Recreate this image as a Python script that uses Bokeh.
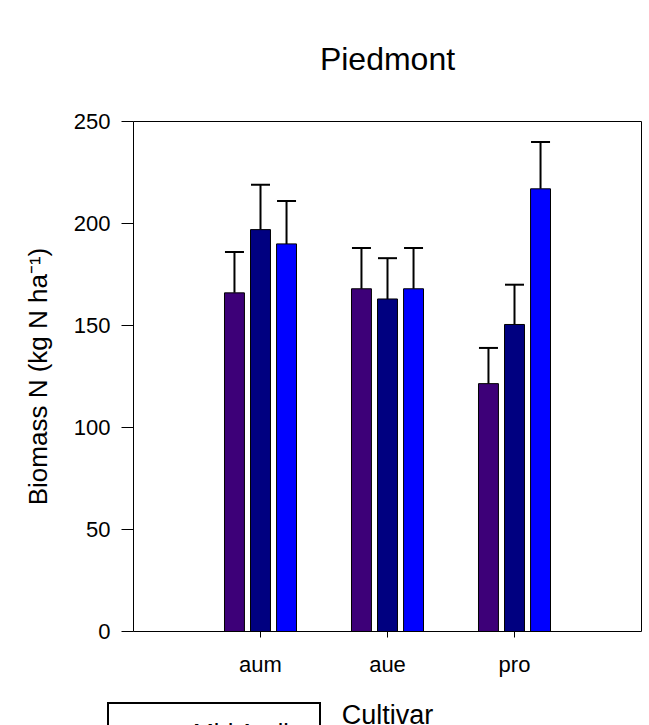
from bokeh.plotting import figure
from bokeh.models import (ColumnDataSource, FixedTicker, Whisker, TeeHead, Legend, LegendItem,
                          LinearAxis, Label, Range1d)
from bokeh.embed import file_html
from bokeh.resources import INLINE

cultivars = ["aum", "aue", "pro"]
positions = [1, 2, 3]
series_names = ["Mid April", "Early May", "Late May"]
mid_april = [166, 168, 121.5]
mid_april_se = [20, 20, 17.5]
early_may = [197, 163, 150.5]
early_may_se = [22, 20, 19.5]
late_may = [190, 168, 217]
late_may_se = [21, 20, 23]
y_ticks = [0, 50, 100, 150, 200, 250]
colors = ["#3d0078", "#000080", "#0000ff"]
offsets = [-0.205, 0.0, 0.205]

FONT = "Liberation Sans"
W, H = 649, 725
# plot box in pixels (from the reference)
BOX_L, BOX_R, BOX_T, BOX_B = 133, 641, 121, 631
X0, X1 = 0, 4
Y0, Y1 = 0, 250
xs_per_px = (X1 - X0) / (BOX_R - BOX_L)
ys_per_px = (Y1 - Y0) / (BOX_B - BOX_T)
x_range = Range1d(X0 - BOX_L * xs_per_px, X1 + (W - BOX_R) * xs_per_px)
y_range = Range1d(Y0 - (H - BOX_B) * ys_per_px, Y1 + BOX_T * ys_per_px)

p = figure(width=W, height=H, output_backend="svg", toolbar_location=None,
           x_range=x_range, y_range=y_range, min_border=0,
           x_axis_location=None, y_axis_location=None)
p.grid.visible = False
p.outline_line_color = None
p.background_fill_color = "white"
p.border_fill_color = "white"

items = []
for vals, ses, col, off, name in zip([mid_april, early_may, late_may],
                                     [mid_april_se, early_may_se, late_may_se],
                                     colors, offsets, series_names):
    xs = [x + off for x in positions]
    src = ColumnDataSource(dict(x=xs, top=vals, upper=[v + s for v, s in zip(vals, ses)]))
    r = p.vbar(x="x", top="top", width=0.157, bottom=0, source=src,
               fill_color=col, line_color="black", line_width=1)
    w = Whisker(source=src, base="x", upper="upper", lower="top", dimension="height",
                line_color="black", line_width=2,
                upper_head=TeeHead(size=19, line_color="black", line_width=2),
                lower_head=None)
    p.add_layout(w)
    items.append(LegendItem(label=name, renderers=[r]))


def style(ax):
    ax.axis_label_text_font = FONT
    ax.axis_label_text_font_style = "normal"
    ax.axis_label_text_color = "black"
    ax.major_label_text_font = FONT
    ax.major_label_text_font_size = "22px"
    ax.major_label_text_color = "black"
    ax.axis_line_color = "black"
    ax.axis_line_width = 1
    ax.major_tick_line_color = "black"
    ax.minor_tick_line_color = None
    ax.major_tick_in = 0


xaxis = LinearAxis(fixed_location=Y0, bounds=(X0, X1), ticker=FixedTicker(ticks=positions),
                   major_label_overrides={pos: c for pos, c in zip(positions, cultivars)},
                   axis_label="Cultivar")
style(xaxis)
xaxis.axis_label_text_font_size = "27px"
xaxis.major_tick_out = 6
xaxis.major_label_standoff = 14
xaxis.axis_label_standoff = 20
p.add_layout(xaxis, "below")

yaxis = LinearAxis(fixed_location=X0, bounds=(Y0, Y1), ticker=FixedTicker(ticks=y_ticks),
                   axis_label="Biomass N (kg N ha\u207b\u00b9)")
style(yaxis)
yaxis.axis_label_text_font_size = "26px"
yaxis.major_tick_out = 12
yaxis.major_label_standoff = 11
yaxis.axis_label_standoff = 18
p.add_layout(yaxis, "left")

top_axis = LinearAxis(fixed_location=Y1, bounds=(X0, X1), ticker=FixedTicker(ticks=[]))
style(top_axis)
p.add_layout(top_axis, "above")
right_axis = LinearAxis(fixed_location=X1, bounds=(Y0, Y1), ticker=FixedTicker(ticks=[]))
style(right_axis)
p.add_layout(right_axis, "right")

title = Label(x=(X0 + X1) / 2, y=Y1 + 63 * ys_per_px, text="Piedmont",
              text_font=FONT, text_font_size="32px", text_color="black",
              text_align="center", text_baseline="alphabetic")
p.add_layout(title)

legend = Legend(items=items, location=(107, -118), orientation="vertical",
                label_text_font=FONT, label_text_font_size="25px", label_text_color="black",
                glyph_width=55, glyph_height=22, label_standoff=14,
                padding=15, spacing=10, margin=0,
                border_line_color="black", border_line_width=2, border_line_alpha=1,
                background_fill_alpha=1)
p.add_layout(legend)

open("out.html", "w").write(file_html(p, INLINE))
